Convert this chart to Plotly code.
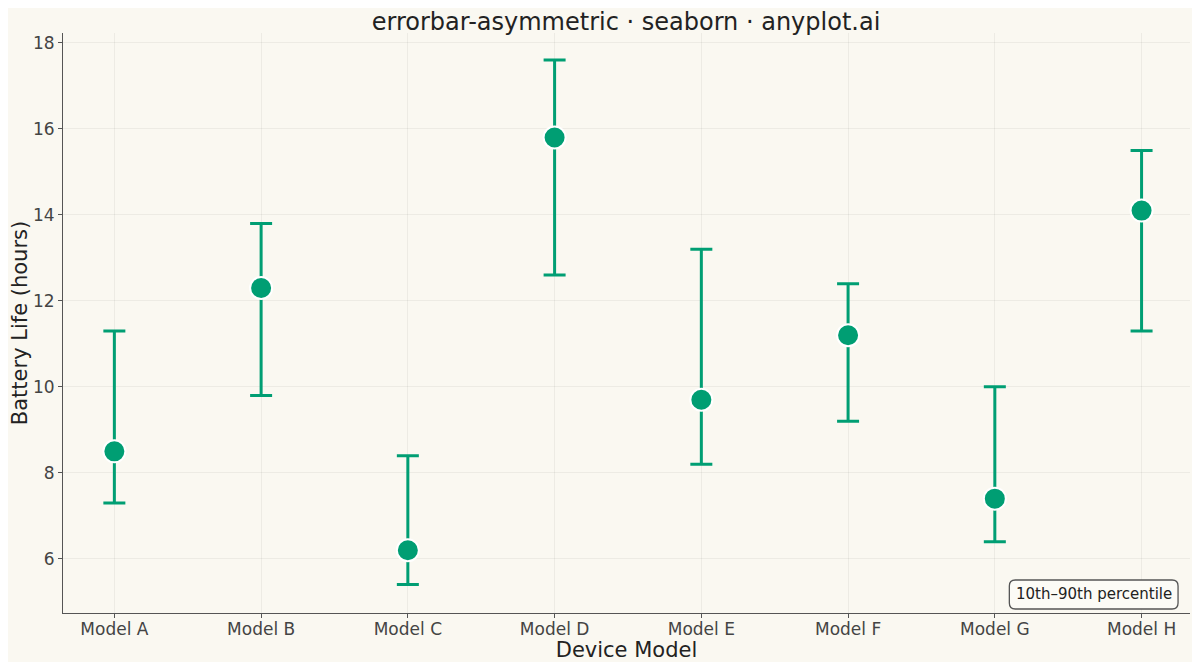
import plotly.graph_objects as go

models = ["Model A", "Model B", "Model C", "Model D", "Model E", "Model F", "Model G", "Model H"]
battery_median = [8.5, 12.3, 6.2, 15.8, 9.7, 11.2, 7.4, 14.1]
p10 = [7.3, 9.8, 5.4, 12.6, 8.2, 9.2, 6.4, 11.3]
p90 = [11.3, 13.8, 8.4, 17.6, 13.2, 12.4, 10.0, 15.5]

err_plus = [hi - m for hi, m in zip(p90, battery_median)]
err_minus = [m - lo for lo, m in zip(p10, battery_median)]

bg = "#FAF8F1"
green = "#009E73"

fig = go.Figure()
fig.add_trace(go.Scatter(
    x=models,
    y=battery_median,
    mode="markers",
    marker=dict(color=green, size=22, line=dict(color="white", width=2)),
    error_y=dict(
        type="data",
        symmetric=False,
        array=err_plus,
        arrayminus=err_minus,
        color=green,
        thickness=3,
        width=11,
    ),
    showlegend=False,
))

# rounded box for the interval note (paper coords, ~6px corner radius)
x0, x1, y0, y1 = 0.8397, 0.9894, 0.0069, 0.0569
rx, ry = 0.0053, 0.0103
box_path = (
    f"M {x0+rx},{y0} L {x1-rx},{y0} Q {x1},{y0} {x1},{y0+ry} "
    f"L {x1},{y1-ry} Q {x1},{y1} {x1-rx},{y1} "
    f"L {x0+rx},{y1} Q {x0},{y1} {x0},{y1-ry} "
    f"L {x0},{y0+ry} Q {x0},{y0} {x0+rx},{y0} Z"
)

fig.update_layout(
    width=1184,
    height=654,
    paper_bgcolor=bg,
    plot_bgcolor=bg,
    font=dict(family="DejaVu Sans", color="#222222"),
    margin=dict(l=53, r=2, t=25, b=49),
    title=dict(
        text="errorbar-asymmetric · seaborn · anyplot.ai",
        x=0.522,
        xanchor="center",
        y=0.979,
        yanchor="middle",
        font=dict(size=24, color="#222222"),
    ),
    xaxis=dict(
        title=dict(text="Device Model", font=dict(size=21), standoff=2),
        range=[-0.35, 7.33],
        showgrid=True,
        gridcolor="rgba(0,0,0,0.05)",
        showline=True,
        linecolor="#555555",
        linewidth=1,
        ticks="outside",
        ticklen=4,
        tickcolor="#555555",
        tickfont=dict(size=17, color="#444444"),
        ticklabelstandoff=-3,
        zeroline=False,
    ),
    yaxis=dict(
        title=dict(text="Battery Life (hours)", font=dict(size=21), standoff=8),
        range=[4.74, 18.23],
        dtick=2,
        showgrid=True,
        gridcolor="rgba(0,0,0,0.05)",
        showline=True,
        linecolor="#555555",
        linewidth=1,
        ticks="outside",
        ticklen=4,
        tickcolor="#555555",
        tickfont=dict(size=17, color="#444444"),
        zeroline=False,
    ),
    shapes=[dict(
        type="path",
        path=box_path,
        xref="paper",
        yref="paper",
        fillcolor="#FCFBF6",
        line=dict(color="#555555", width=1.3),
        layer="above",
    )],
    annotations=[dict(
        text="10th–90th percentile",
        xref="paper",
        yref="paper",
        x=(x0 + x1) / 2,
        y=(y0 + y1) / 2,
        xanchor="center",
        yanchor="middle",
        showarrow=False,
        font=dict(size=15, color="#222222"),
    )],
)

fig.write_html("out.html")
